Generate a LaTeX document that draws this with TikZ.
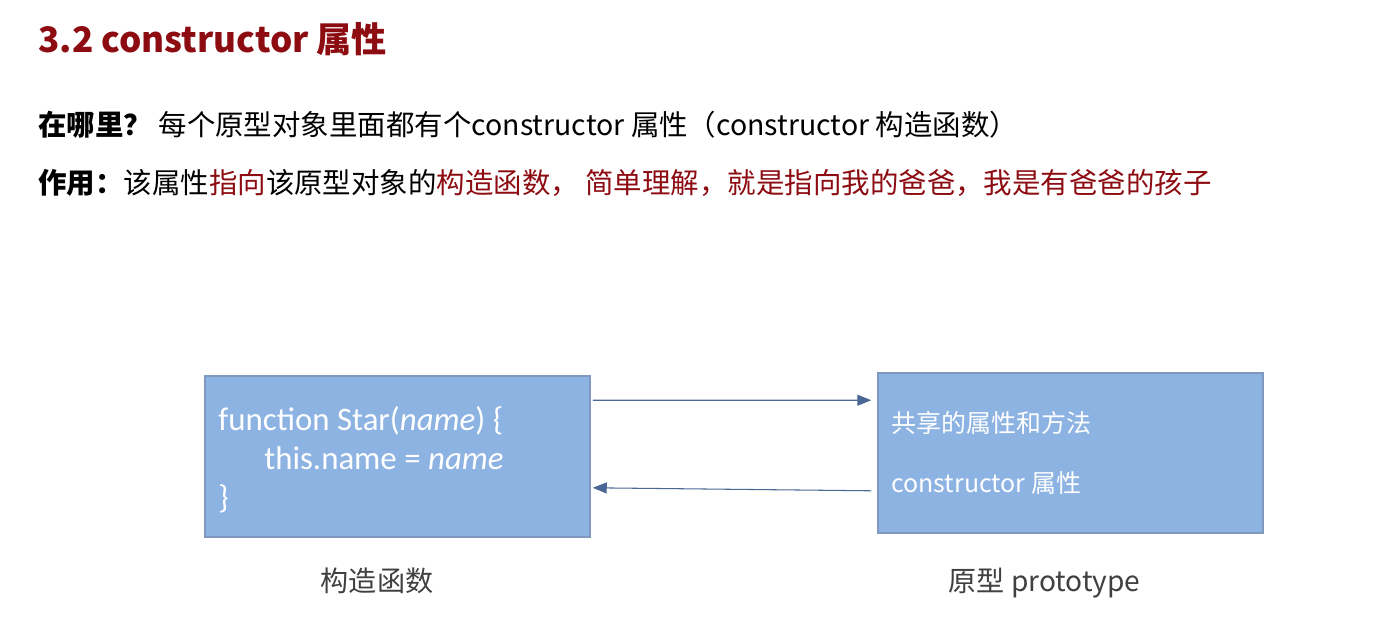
\documentclass[tikz,border=0pt]{standalone}
\usepackage{fontspec}
\setmainfont{Noto Sans CJK SC}
\newfontfamily\codefont{Carlito}
\usetikzlibrary{arrows.meta}
\definecolor{titlered}{RGB}{140,12,18}
\definecolor{boxfill}{RGB}{141,179,226}
\definecolor{boxline}{RGB}{128,152,190}
\definecolor{arrowblue}{RGB}{74,104,150}
\definecolor{labelgray}{RGB}{64,64,64}

\begin{document}
\begin{tikzpicture}
 [x=0.02cm, y=-0.02cm,
  box/.style={rectangle, fill=boxfill, draw=boxline, line width=0.9pt, minimum width=7.7cm, minimum height=3.2cm, inner sep=0pt},
  code node/.style={anchor=base west, inner sep=0pt, text=white, font=\codefont\fontsize{18.7pt}{20pt}\selectfont},
  member node/.style={anchor=base west, inner sep=0pt, text=white, font=\fontsize{14.2pt}{16pt}\selectfont},
  line node/.style={anchor=base west, inner sep=0pt, font=\fontsize{16.2pt}{18pt}\selectfont},
  caption node/.style={anchor=base, inner sep=0pt, text=labelgray, font=\fontsize{16pt}{18pt}\selectfont},
  link/.style={draw=arrowblue, line width=0.6pt, -{Triangle[length=2.8mm, width=2.2mm]}}]

\fill[white] (0,0) rectangle (1375,640);
\useasboundingbox (0,0) rectangle (1375,640);

% title and the two lines of text
\node[anchor=base west, inner sep=0pt, text=titlered, font=\bfseries\fontsize{20pt}{22pt}\selectfont] (title) at (38,52) {3.2 constructor 属性};
\node[line node] (where) at (38,135) {\textbf{在哪里？} 每个原型对象里面都有个constructor 属性（constructor 构造函数）};
\node[line node] (use) at (38,193) {\textbf{作用：}该属性\textcolor{titlered}{指向}该原型对象的\textcolor{titlered}{构造函数，\ 简单理解，就是指向我的爸爸，我是有爸爸的孩子}};

% the two boxes
\node[box, minimum height=3.22cm] (ctor) at (397.5,456.5) {};
\node[box] (proto) at (1070.5,453) {};

\node[code node] (l1) at (218,430) {function Star(\textit{name}) \{};
\node[code node] (l2) at (264,469) {this.name = \textit{name}};
\node[code node] (l3) at (218,508) {\}};

\node[member node] (shared) at (891,432) {共享的属性和方法};
\node[member node] (cprop) at (891,492) {constructor 属性};

\node[caption node] (ctorlabel) at (377,591) {构造函数};
\node[caption node] (protolabel) at (1044.5,591) {原型 prototype};

% connectors
\path
  ([xshift=0.04cm, yshift=-0.5cm]ctor.north east) edge [link] ([xshift=-0.12cm, yshift=-0.56cm]proto.north west)
  ([xshift=-0.12cm, yshift=0.86cm]proto.south west) edge [link] ([xshift=0.04cm, yshift=1cm]ctor.south east);

\end{tikzpicture}
\end{document}
